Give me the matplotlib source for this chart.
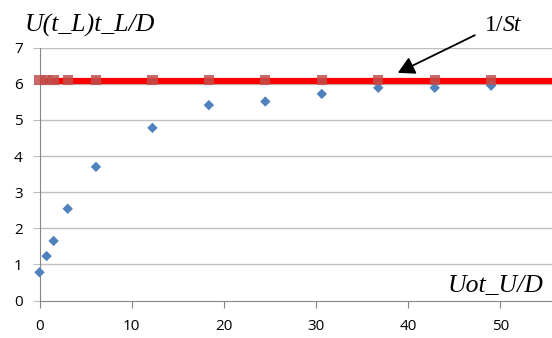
import matplotlib
matplotlib.use("Agg")
import matplotlib.pyplot as plt

# Measured series
x_vals = [0.0, 0.77, 1.53, 3.06, 6.125, 12.25, 18.375, 24.5, 30.625, 36.75, 42.875, 49.0]
u_vals = [0.78, 1.23, 1.65, 2.54, 3.70, 4.78, 5.41, 5.51, 5.72, 5.89, 5.89, 5.95]
inv_st_vals = [6.10] * len(x_vals)
inv_st_level = 6.08

x_ticks = [0, 10, 20, 30, 40, 50]
y_ticks = [0, 1, 2, 3, 4, 5, 6, 7]

fig = plt.figure(figsize=(5.52, 3.38), dpi=100)
ax = fig.add_axes([39.5 / 552, 1 - 300.5 / 338, 1 - 39.5 / 552, (300.5 - 47.7) / 338])

ax.set_xlim(0, 55.6)
ax.set_ylim(0, 7)

for y in y_ticks[1:]:
    ax.axhline(y, color="#BFBFBF", lw=1.0, zorder=0)

ax.axhline(inv_st_level, color="#FF0000", lw=4.5, zorder=3, solid_capstyle="butt")
ax.scatter(x_vals, u_vals, marker="D", s=28, color="#4F81BD", edgecolors="none",
           zorder=4, clip_on=False)
ax.scatter(x_vals, inv_st_vals, marker="s", s=55, color="#C0504D", alpha=0.85,
           edgecolors="none", zorder=5, clip_on=False)

for side in ["top", "right"]:
    ax.spines[side].set_visible(False)
ax.spines["left"].set_color("#868686")
ax.spines["bottom"].set_color("#868686")

ax.set_xticks(x_ticks)
ax.set_yticks(y_ticks)
ax.tick_params(axis="x", length=5, color="#868686", labelsize=11, pad=8)
ax.tick_params(axis="y", length=5, color="#BFBFBF", labelsize=11, pad=7)
for lab in ax.get_xticklabels() + ax.get_yticklabels():
    lab.set_fontfamily("Open Sans")

serif = "Liberation Serif"
fig.text(25 / 552, 1 - 32 / 338, "U(t_L)t_L/D", fontsize=18.5, family=serif,
         style="italic", ha="left", va="baseline")
fig.text(544 / 552, 1 - 292 / 338, "Uot_U/D", fontsize=18.5, family=serif,
         style="italic", ha="right", va="baseline")

ax.annotate("", xy=(38.6, 6.27), xytext=(47.5, 7.38), xycoords="data",
            arrowprops=dict(arrowstyle="-|>,head_length=1.0,head_width=0.55",
                            color="black", lw=1.3), annotation_clip=False)
fig.text(485 / 552, 1 - 31 / 338, "1/", fontsize=17, family=serif,
         ha="left", va="baseline")
fig.text(503 / 552, 1 - 31 / 338, "St", fontsize=17, family=serif, style="italic",
         ha="left", va="baseline")

fig.savefig("out.png", dpi=100)
